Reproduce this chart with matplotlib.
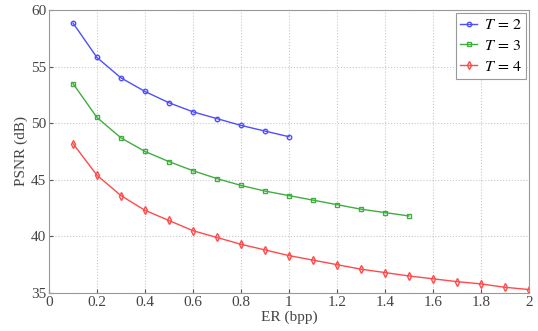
import matplotlib
matplotlib.use("Agg")
import matplotlib.pyplot as plt

# --- Data ---
er_t2 = [0.1, 0.2, 0.3, 0.4, 0.5, 0.6, 0.7, 0.8, 0.9, 1.0]
psnr_t2 = [58.85, 55.8, 54.0, 52.8, 51.8, 51.0, 50.4, 49.8, 49.3, 48.8]

er_t3 = [0.1, 0.2, 0.3, 0.4, 0.5, 0.6, 0.7, 0.8, 0.9, 1.0,
         1.1, 1.2, 1.3, 1.4, 1.5]
psnr_t3 = [53.5, 50.5, 48.7, 47.5, 46.6, 45.8, 45.1, 44.5, 44.0, 43.6,
           43.2, 42.8, 42.4, 42.1, 41.8]

er_t4 = [0.1, 0.2, 0.3, 0.4, 0.5, 0.6, 0.7, 0.8, 0.9, 1.0,
         1.1, 1.2, 1.3, 1.4, 1.5, 1.6, 1.7, 1.8, 1.9, 2.0]
psnr_t4 = [48.2, 45.4, 43.6, 42.3, 41.4, 40.5, 39.9, 39.3, 38.8, 38.3,
           37.9, 37.5, 37.1, 36.8, 36.5, 36.25, 36.0, 35.8, 35.5, 35.3]

plt.rcParams["font.family"] = ["Liberation Serif", "DejaVu Serif"]
plt.rcParams["mathtext.fontset"] = "stix"

fig = plt.figure(figsize=(5.38, 3.31), dpi=100)
ax = fig.add_axes([0.091, 0.115, 0.892, 0.855])

ax.plot(er_t2, psnr_t2, color="#4f4fff", marker="o", ms=3.2, mfc="none",
        mew=1.0, lw=1.0, label="$T\\,=\\,2$")
ax.plot(er_t3, psnr_t3, color="#3fae3f", marker="s", ms=3.0, mfc="none",
        mew=1.0, lw=1.0, label="$T\\,=\\,3$")
ax.plot(er_t4, psnr_t4, color="#ff4a4a", marker="d", ms=3.6, mfc="none",
        mew=1.0, lw=1.0, label="$T\\,=\\,4$")

ax.set_xlim(0, 2)
ax.set_ylim(35, 60)
ax.set_xticks([0, 0.2, 0.4, 0.6, 0.8, 1, 1.2, 1.4, 1.6, 1.8, 2])
ax.set_xticklabels(["0", "0.2", "0.4", "0.6", "0.8", "1", "1.2", "1.4",
                    "1.6", "1.8", "2"])
ax.set_yticks([35, 40, 45, 50, 55, 60])

ax.grid(True, color="#c8c8c8", linestyle=":", linewidth=0.8)
ax.tick_params(direction="in", labelsize=11, colors="#555555",
               labelcolor="#444444", length=3, pad=2)
for s in ax.spines.values():
    s.set_color("#999999")

ax.set_xlabel("ER (bpp)", fontsize=11, color="#444444", labelpad=1)
ax.set_ylabel("PSNR (dB)", fontsize=11, color="#444444", labelpad=2)

leg = ax.legend(loc="upper right", fontsize=11.5, handlelength=1.1,
                borderpad=0.25, labelspacing=0.3, handletextpad=0.4,
                fancybox=False, framealpha=1, borderaxespad=0.2)
leg.get_frame().set_edgecolor("#999999")
leg.get_frame().set_linewidth(0.8)

fig.savefig("out.png", dpi=100, facecolor="white")
